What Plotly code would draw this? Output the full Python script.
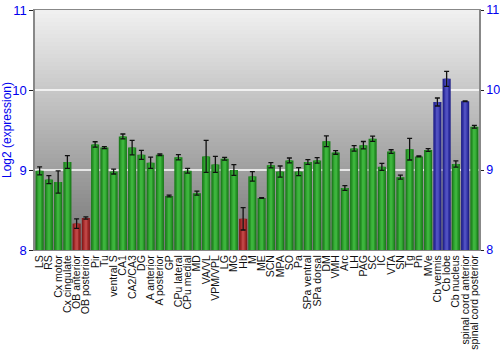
import plotly.graph_objects as go

regions = ["LS", "RS", "Cx motor", "Cx cingulate", "OB anterior", "OB posterior", "Pir", "Tu",
           "ventral S", "CA1", "CA2/CA3", "DG", "A anterior", "A posterior", "GP", "CPu lateral",
           "CPu medial", "MD", "VA/VL", "VPM/VPL", "LG", "MG", "Hb", "M", "ME", "SCN", "MPA", "SO",
           "Pa", "SPa ventral", "SPa dorsal", "DM", "VMH", "Arc", "LH", "PAG", "SC", "IC", "VTA",
           "SN", "Tg", "Pn", "MVe", "Cb vermis", "Cb lobe", "Cb nucleus", "spinal cord anterior",
           "spinal cord posterior"]
values = [8.99, 8.88, 8.85, 9.10, 8.33, 8.40, 9.32, 9.28,
          8.98, 9.42, 9.28, 9.19, 9.09, 9.19, 8.675, 9.16,
          8.99, 8.71, 9.17, 9.07, 9.14, 9.00, 8.39, 8.92, 8.65, 9.06, 8.98, 9.12,
          8.98, 9.10, 9.12, 9.36, 9.22, 8.775, 9.27, 9.31, 9.39, 9.04, 9.23,
          8.91, 9.26, 9.17, 9.25, 9.85, 10.14, 9.075, 9.86, 9.54]
errors = [0.05, 0.05, 0.14, 0.08, 0.06, 0.015, 0.033, 0.013,
          0.03, 0.03, 0.09, 0.056, 0.07, 0.01, 0.01, 0.033,
          0.03, 0.025, 0.2, 0.1, 0.017, 0.067, 0.14, 0.06, 0.005, 0.033, 0.07, 0.03,
          0.05, 0.03, 0.035, 0.067, 0.023, 0.03, 0.035, 0.046, 0.033, 0.044, 0.023,
          0.025, 0.135, 0.005, 0.017, 0.05, 0.094, 0.04, 0.005, 0.017]
groups = ["g"] * len(regions)
for name in ["OB anterior", "OB posterior", "Hb"]:
    groups[regions.index(name)] = "r"
for name in ["Cb vermis", "Cb lobe", "spinal cord anterior"]:
    groups[regions.index(name)] = "b"

palette = {
    "g": ["#1c7d1c", "#2b9a2b", "#3db53d"],
    "r": ["#861c1c", "#a32a2a", "#bf4545"],
    "b": ["#22228a", "#3434a6", "#5050c0"],
}
layer_widths = [0.88, 0.6, 0.3]
ymin, ymax = 8, 11
yticks = [8, 9, 10, 11]
base = [ymin] * len(regions)

fig = go.Figure()

# background gradient of the plot area
nb = 60
for i in range(nb):
    c = int(242 - (242 - 118) * (i + 0.5) / nb)
    fig.add_shape(type="rect", xref="paper", yref="paper", x0=0, x1=1,
                  y0=1 - (i + 1) / nb, y1=1 - i / nb,
                  fillcolor=f"rgb({c},{c},{c})", line=dict(width=0), layer="below")

for li, w in enumerate(layer_widths):
    fig.add_trace(go.Bar(
        x=regions, y=[v - ymin for v in values], base=base,
        width=w, marker=dict(color=[palette[g][li] for g in groups], line=dict(width=0)),
        error_y=dict(type="data", array=errors, color="#111111", thickness=1.3, width=2.5,
                     visible=(li == len(layer_widths) - 1)),
        showlegend=False, hoverinfo="skip"))

# invisible trace for right axis
fig.add_trace(go.Scatter(x=[regions[0]], y=[ymin], yaxis="y2", mode="markers",
                         marker=dict(opacity=0), showlegend=False, hoverinfo="skip"))

for yv in [9, 10]:
    fig.add_shape(type="line", xref="paper", yref="y", x0=0, x1=1, y0=yv, y1=yv,
                  line=dict(color="white", width=1.5), layer="below")

fig.update_layout(
    width=500, height=350,
    margin=dict(l=35, r=21, t=10, b=100),
    barmode="overlay",
    paper_bgcolor="white",
    plot_bgcolor="rgba(0,0,0,0)",
    font=dict(family="Liberation Sans, Arial, sans-serif"),
    xaxis=dict(tickangle=-90, tickfont=dict(size=10.5, color="#111111"), showgrid=False,
               tickmode="array", tickvals=regions, ticktext=regions, automargin=False,
               showline=True, linecolor="#888888", mirror=True, ticks="", ticklen=0,
               range=[-0.5, len(regions) - 0.5]),
    yaxis=dict(range=[ymin, ymax], tickvals=yticks, showgrid=False, zeroline=False,
               automargin=False,
               tickfont=dict(size=13, color="#0000ee"), ticks="outside", ticklen=4,
               tickcolor="#222222", showline=True, linecolor="#888888", linewidth=1.5,
               title=dict(text="Log2 (expression)", font=dict(size=12, color="#0000ee"), standoff=4)),
    yaxis2=dict(range=[ymin, ymax], tickvals=yticks, overlaying="y", side="right",
                automargin=False,
                showgrid=False, zeroline=False, tickfont=dict(size=12.5, color="#0000ee"),
                ticks="outside", ticklen=3, tickcolor="#222222", showline=True,
                linecolor="#888888", linewidth=1.5),
)

fig.write_html("out.html")
